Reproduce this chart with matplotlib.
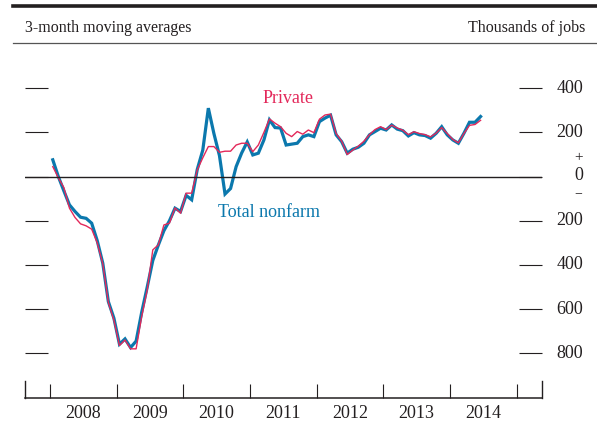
import numpy as np
import matplotlib
matplotlib.use("Agg")
import matplotlib.pyplot as plt
from matplotlib.lines import Line2D
import matplotlib.transforms as mtransforms

plt.rcParams['font.family'] = ['Liberation Serif', 'DejaVu Serif']

# 3-month moving averages, thousands of jobs, monthly Jan 2008 - Jun 2014
total_nonfarm = [
    76, 0, -65, -128, -158, -184, -189, -211, -290, -392, -566, -641,        # 2008
    -759, -735, -774, -745, -615, -500, -380, -310, -245, -200, -143, -158,  # 2009
    -85, -105, 32, 120, 310, 195, 95, -79, -54, 45, 107, 157,               # 2010
    98, 106, 166, 257, 222, 220, 143, 147, 151, 181, 189, 181,              # 2011
    249, 265, 278, 189, 158, 106, 124, 133, 151, 189, 204, 219,             # 2012
    211, 234, 215, 208, 184, 199, 189, 186, 174, 196, 226, 189,             # 2013
    166, 151, 196, 246, 246, 272,                                           # 2014
]
private = [
    45, -5, -50, -143, -185, -214, -223, -238, -300, -395, -570, -650,
    -765, -740, -780, -780, -634, -513, -332, -309, -219, -211, -142, -166,
    -75, -75, 30, 85, 136, 136, 110, 115, 115, 143, 151, 151,
    113, 143, 200, 261, 242, 226, 196, 181, 204, 192, 211, 199,
    260, 279, 283, 195, 160, 100, 120, 138, 160, 190, 213, 226,
    213, 233, 220, 210, 190, 203, 195, 190, 180, 197, 222, 195,
    168, 153, 195, 232, 236, 255,
]
years = ['2008', '2009', '2010', '2011', '2012', '2013', '2014']
ytick_vals = [-800, -600, -400, -200, 0, 200, 400]
ytick_labels = ['800', '600', '400', '200', '', '200', '400']

red = '#e3285a'
blue = '#0b78ad'
ink = '#231f20'

W, H = 597, 425
fig = plt.figure(figsize=(W / 100, H / 100), dpi=100)

# axes box in pixels: x 25..541.7, y 60..398.3
ax = fig.add_axes([25 / W, (H - 398.3) / H, (541.7 - 25) / W, (398.3 - 60) / H])
ax.set_xlim(-5, 88)
ax.set_ylim(-1004, 528)

m = np.arange(len(total_nonfarm))
ax.plot(m, total_nonfarm, color=blue, lw=2.3, solid_joinstyle='miter')
ax.plot(m, private, color=red, lw=1.0)
ax.axhline(0, color=ink, lw=1.0)

# spines
ax.spines['top'].set_visible(False)
ax.spines['bottom'].set_color(ink)
ax.spines['bottom'].set_linewidth(1.1)
for s in ['left', 'right']:
    ax.spines[s].set_color(ink)
    ax.spines[s].set_linewidth(1.0)
    ax.spines[s].set_bounds(-1004, -924)

# x ticks: year boundaries (major), labels centred (minor)
n_years = len(years)
ax.set_xticks(np.arange(n_years + 1) * 12 - 0.5)
ax.set_xticklabels([])
ax.set_xticks(np.arange(n_years) * 12 + 5.5, minor=True)
ax.set_xticklabels(years, minor=True, fontsize=13, color=ink)
ax.tick_params(axis='x', which='major', direction='in', length=10, width=0.8, color=ink)
ax.tick_params(axis='x', which='minor', length=0, pad=5)

# y ticks on both sides, labels on the right
ax.set_yticks(ytick_vals)
ax.set_yticklabels(ytick_labels, fontsize=13, color=ink)
ax.tick_params(axis='y', direction='in', length=16.6, width=0.8, color=ink,
               left=True, right=True, labelleft=False, labelright=True, pad=29.7)
plt.setp(ax.get_yticklabels(), ha='right', va='center')

# zero label with +/- signs
trans = mtransforms.blended_transform_factory(ax.transAxes, ax.transData)
ax.annotate('0', xy=(1, 0), xycoords=trans, xytext=(29.7, 0.5), textcoords='offset points',
            ha='right', va='center', fontsize=13, color=ink)
ax.annotate('+', xy=(1, 0), xycoords=trans, xytext=(26.3, 14), textcoords='offset points',
            ha='center', va='center', fontsize=11, color=ink)
ax.annotate('\u2212', xy=(1, 0), xycoords=trans, xytext=(26.3, -12.5), textcoords='offset points',
            ha='center', va='center', fontsize=10, color=ink)

# series labels
ax.text(37.8, 352, 'Private', color=red, fontsize=13, ha='left', va='center')
ax.text(29.7, -164, 'Total nonfarm', color=blue, fontsize=13, ha='left', va='center')

# header rules and text
fig.add_artist(Line2D([12.7 / W, 1], [1 - 6 / H, 1 - 6 / H], color=ink, lw=2.6))
fig.add_artist(Line2D([12.7 / W, 1], [1 - 42.7 / H, 1 - 42.7 / H], color='#555555', lw=0.9))
fig.text(25 / W, 1 - 28 / H, '3-month moving averages', fontsize=11.5, color=ink,
         ha='left', va='center')
fig.text(585 / W, 1 - 28 / H, 'Thousands of jobs', fontsize=11.5, color=ink,
         ha='right', va='center')

fig.savefig('out.png', dpi=100)
